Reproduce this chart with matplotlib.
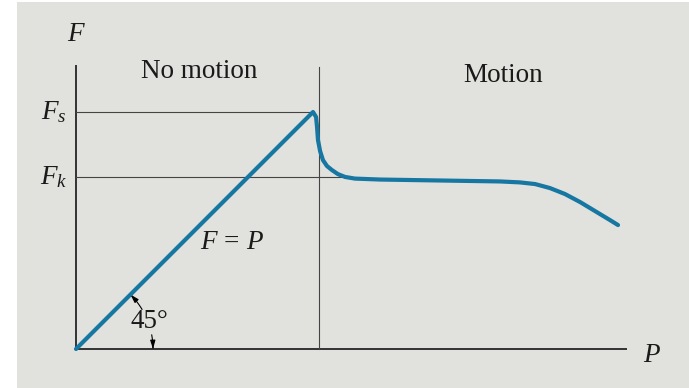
import matplotlib
matplotlib.use("Agg")
import matplotlib.pyplot as plt
from matplotlib.patches import Rectangle
import numpy as np

plt.rcParams['mathtext.fontset'] = 'custom'
plt.rcParams['mathtext.rm'] = 'Liberation Serif'
plt.rcParams['mathtext.it'] = 'Liberation Serif:italic'

# Friction force F versus applied force P (normalised so F_s = 1)
P_curve = [0.0, 1.0, 1.013, 1.017, 1.021, 1.030, 1.042, 1.059, 1.080, 1.105, 1.135,
           1.177, 1.283, 1.536, 1.789, 1.873, 1.937, 2.0, 2.063, 2.127, 2.190,
           2.253, 2.287]
F_curve = [0.0, 1.0, 0.979, 0.937, 0.882, 0.835, 0.797, 0.772, 0.755, 0.738, 0.726,
           0.719, 0.715, 0.711, 0.707, 0.703, 0.696, 0.679, 0.654, 0.620, 0.582,
           0.544, 0.523]
F_s = 1.0
F_k = 0.726
P_divide = 1.025
region_labels = ["No motion", "Motion"]

fig = plt.figure(figsize=(6.89, 3.88), dpi=100)
fig.patch.set_facecolor('white')
ax = fig.add_axes([0, 0, 1, 1])
ax.set_facecolor('none')
ax.add_patch(Rectangle((17/689, 0), 1 - 17/689, 1 - 2/388,
                       transform=fig.transFigure, facecolor='#e1e1dd',
                       edgecolor='none', zorder=-10, clip_on=False))
ax.set_xlim(-76/237, (689-76)/237)
ax.set_ylim(-(388-349)/237, 349/237)
ax.axis('off')

serif = 'Liberation Serif'
fs = 19.5
tc = '#1a1a1a'

# axes
ax.plot([0, 0], [0, 1.198], color='#333333', lw=1.4, solid_capstyle='butt')
ax.plot([0, 2.325], [0, 0], color='#333333', lw=1.4, solid_capstyle='butt')
# reference lines
ax.plot([0, 1.0], [F_s, F_s], color='#444444', lw=0.8)
ax.plot([0, 1.12], [F_k, F_k], color='#444444', lw=0.8)
ax.plot([P_divide, P_divide], [0, 1.19], color='#444444', lw=0.8)

# curve
ax.plot(P_curve, F_curve, color='#1677a2', lw=3.0, solid_joinstyle='round',
        solid_capstyle='round', zorder=5)

# labels
ax.text(0, 1.33, r'$F$', fontsize=fs, ha='center', va='center', color=tc)
ax.text(-0.095, F_s, r'$F_s$', fontsize=fs, ha='center', va='center', color=tc)
ax.text(-0.095, F_k, r'$F_k$', fontsize=fs, ha='center', va='center', color=tc)
ax.text(2.43, -0.025, r'$P$', fontsize=fs, ha='center', va='center', color=tc)
ax.text(0.52, 1.172, region_labels[0], fontsize=fs, family=serif, ha='center',
        va='center', color=tc)
ax.text(1.80, 1.155, region_labels[1], fontsize=fs, family=serif, ha='center',
        va='center', color=tc)
ax.text(0.66, 0.45, r'$F\,=\,P$', fontsize=fs, ha='center', va='center', color=tc)
ax.text(0.31, 0.115, '45°', fontsize=fs, family=serif, ha='center', va='center', color=tc)

# angle arrows
r = 77/237
def arc(a0, a1):
    t = np.radians(np.linspace(a0, a1, 12))
    return r*np.cos(t), r*np.sin(t)
x1, y1 = arc(31, 44)
ax.plot(x1, y1, color='black', lw=0.8)
ax.annotate('', xy=(r*np.cos(np.radians(45)), r*np.sin(np.radians(45))),
            xytext=(x1[-3], y1[-3]),
            arrowprops=dict(arrowstyle='-|>,head_length=0.5,head_width=0.15',
                            color='black', lw=0.8))
x2, y2 = arc(10.5, 1)
ax.plot(x2, y2, color='black', lw=0.8)
ax.annotate('', xy=(r, 0.0), xytext=(x2[-3], y2[-3]),
            arrowprops=dict(arrowstyle='-|>,head_length=0.5,head_width=0.15',
                            color='black', lw=0.8))

fig.savefig('out.png', dpi=100, facecolor=fig.get_facecolor())
